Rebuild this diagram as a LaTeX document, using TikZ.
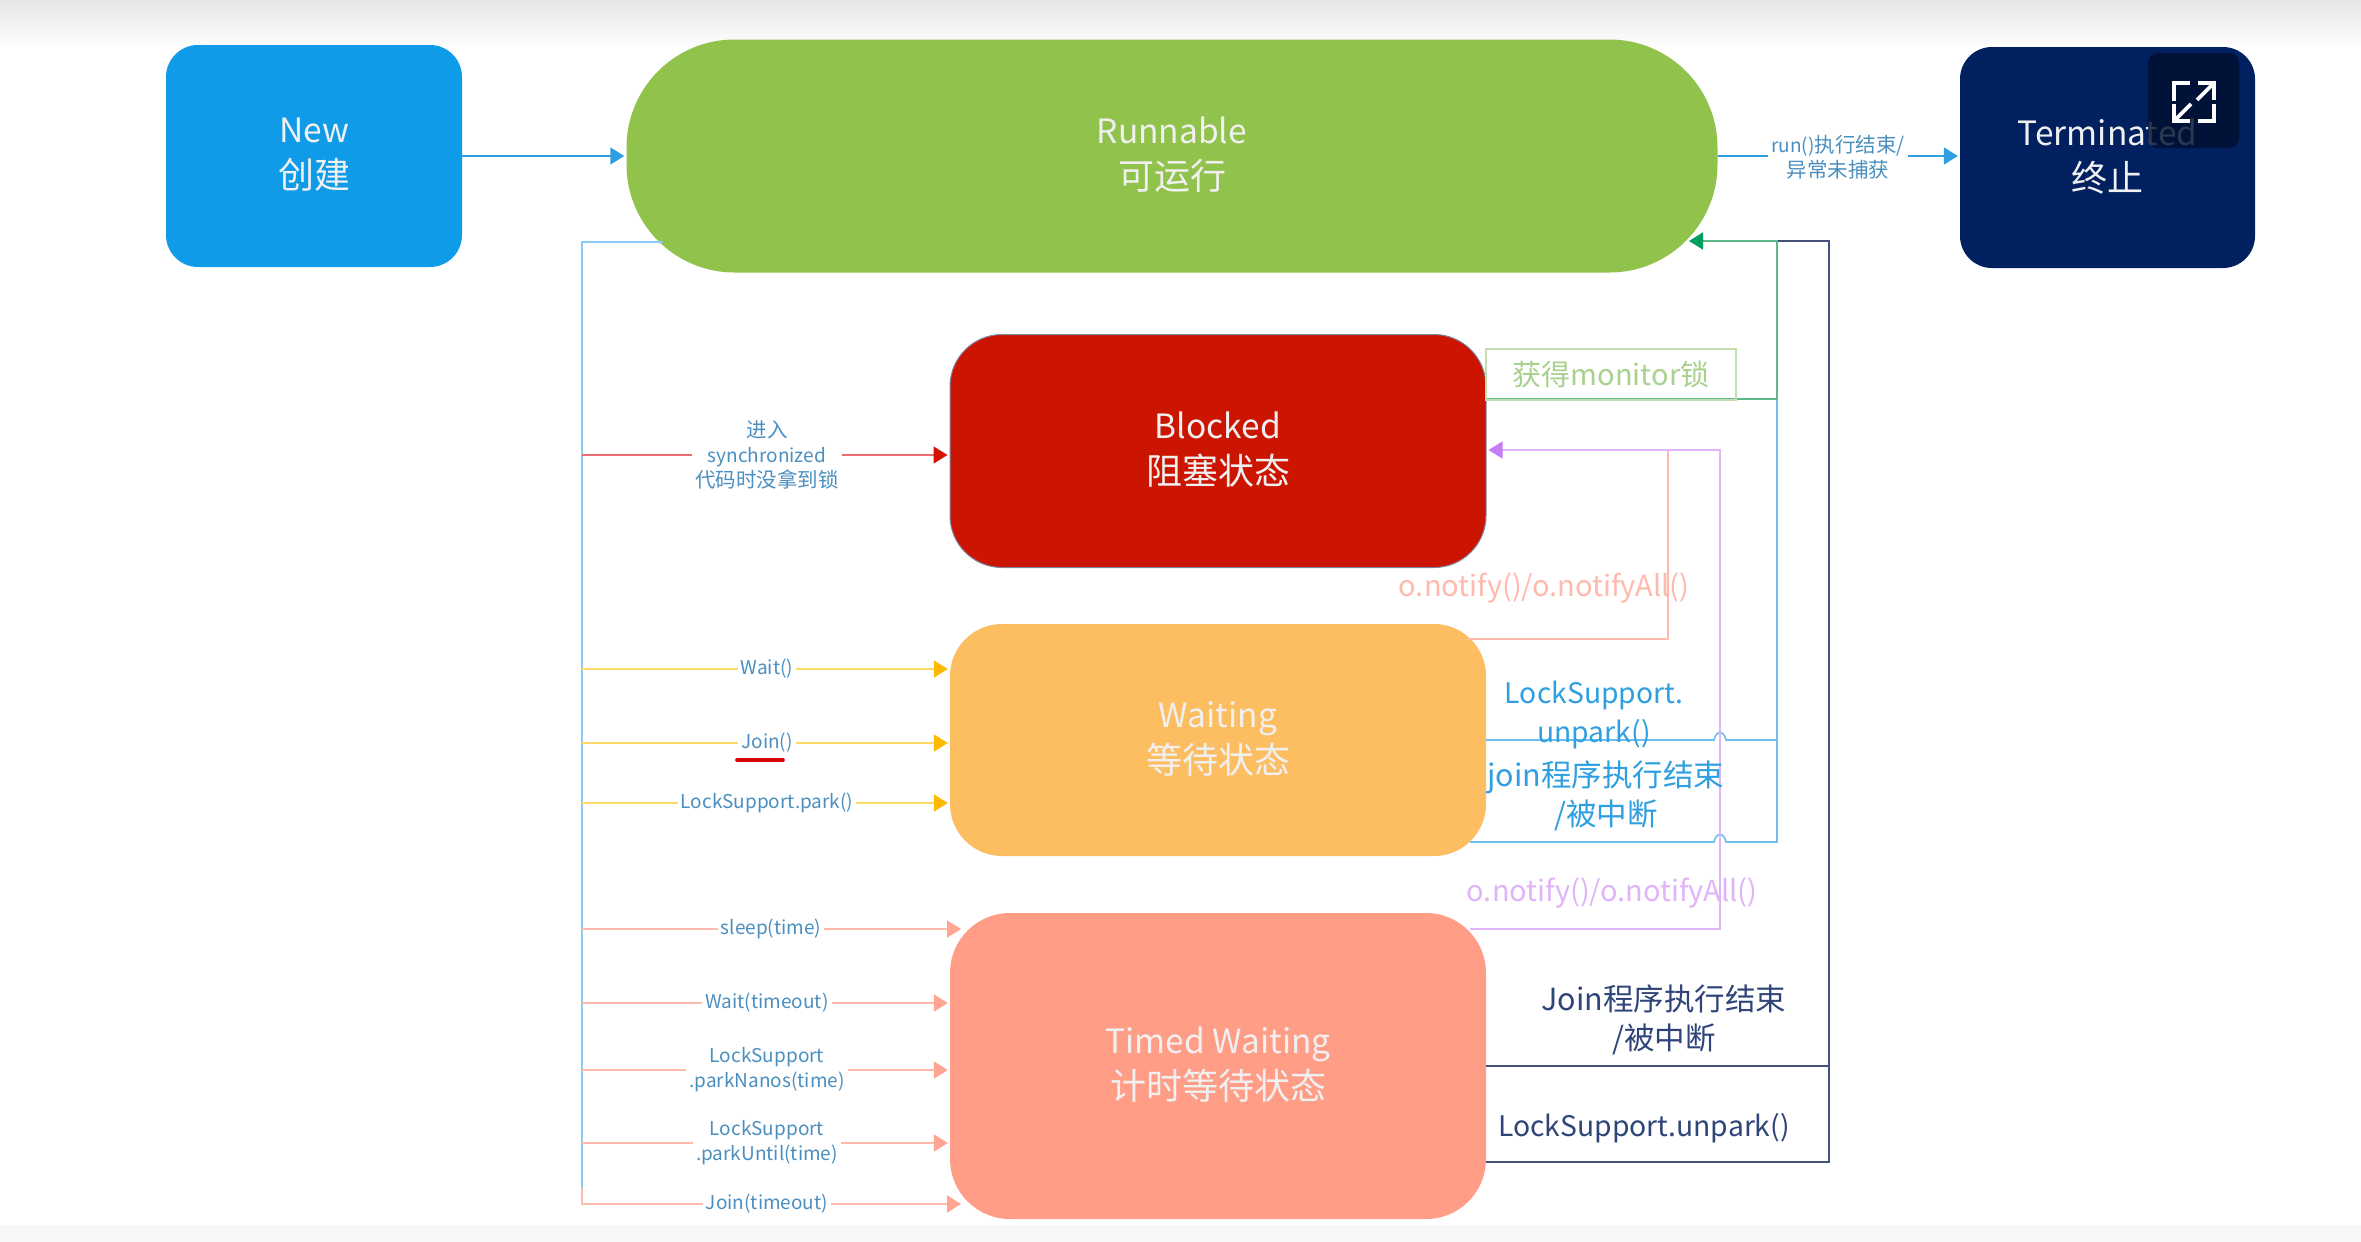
\documentclass[tikz,border=0pt]{standalone}
\usepackage{fontspec}
\setmainfont{Noto Sans CJK SC}
\usetikzlibrary{arrows.meta,calc}
\definecolor{cNew}{HTML}{0F9BE8}
\definecolor{cRun}{HTML}{91C24C}
\definecolor{cTerm}{HTML}{002060}
\definecolor{cBlock}{HTML}{CC1500}
\definecolor{cWait}{HTML}{FDBE62}
\definecolor{cTimed}{HTML}{FF9D87}
\definecolor{cTrunk}{HTML}{8CCBF7}
\definecolor{cBlue}{HTML}{2E9FE0}
\definecolor{cLab}{HTML}{4A8FBF}
\definecolor{cYel}{HTML}{FFD966}
\definecolor{cYelTip}{HTML}{FFB900}
\definecolor{cSal}{HTML}{FFB9AD}
\definecolor{cSalTip}{HTML}{FFA592}
\definecolor{cRedL}{HTML}{EC6A70}
\definecolor{cGreen}{HTML}{5DB88A}
\definecolor{cGreenTip}{HTML}{00A060}
\definecolor{cMon}{HTML}{A9D18E}
\definecolor{cPur}{HTML}{E0B4F8}
\definecolor{cPurTip}{HTML}{C77DF5}
\definecolor{cNavy}{HTML}{44527A}
\definecolor{cNavyT}{HTML}{2F4478}
\newcommand\latn[1]{{\fontsize{33.5}{46}\selectfont #1}}
\newcommand\cjkb[1]{#1\rule[-5pt]{0pt}{1pt}}
\newcommand\cjks[1]{{\fontsize{20.5}{25}\selectfont #1}}
\newcommand\cjkm[1]{{\fontsize{30.5}{39}\selectfont #1}}
\newcommand\latm[1]{{\fontsize{28.3}{39}\selectfont #1}}
\tikzset{
  state/.style={draw=none,inner sep=0pt,align=center,text=white!94!black,
    font=\fontsize{36}{46}\selectfont,rounded corners=#1},
  state/.default=52pt,
  lab/.style={inner sep=3pt,align=center,text=cLab,font=\fontsize{19}{25}\selectfont},
  big/.style={inner sep=0pt,align=center,font=\fontsize{29}{39}\selectfont},
  conn/.style={line width=1.6pt},
  tipped/.style={-{Triangle[length=14pt,width=17pt,color=#1]},shorten >=2pt},
}
\begin{document}
\begin{tikzpicture}[x=1pt,y=-1pt]
\useasboundingbox (0,0) rectangle (2361,1242);
\fill[white] (0,0) rectangle (2361,1242);
\shade[top color=black!10,bottom color=white] (0,0) rectangle (2361,48);
\fill[black!3] (0,1225) rectangle (2361,1242);
% states
\node[state=32pt,fill=cNew,minimum width=296pt,minimum height=222pt] (new) at (314,156) {\latn{New}\\\cjkb{创建}};
\node[state=108pt,fill=cRun,minimum width=1091pt,minimum height=233pt] (run) at (1172,156) {\latn{Runnable}\\\cjkb{可运行}};
\node[state=32pt,fill=cTerm,minimum width=295pt,minimum height=221pt] (term) at (2107.5,157.5) {\latn{Terminated}\\\cjkb{终止}};
\node[state,fill=cBlock,draw=cNavy!70,line width=1pt,minimum width=536pt,minimum height=233pt] (blocked) at (1218,451) {\latn{Blocked}\\\cjkb{阻塞状态}};
\node[state,fill=cWait,minimum width=536pt,minimum height=232pt] (waiting) at (1218,740) {\latn{Waiting}\\\cjkb{等待状态}};
\node[state=60pt,fill=cTimed,minimum width=536pt,minimum height=306pt] (timed) at (1218,1066) {\latn{Timed Waiting}\\\cjkb{计时等待状态}};
% free ends
\coordinate (trunkTop) at (582,242);
\coordinate (trunkEnd) at (582,1204);
\coordinate (runTL) at (663,242);
\coordinate (trunkB) at (582,1188);
\coordinate (tip1) at (963,929);
\coordinate (tip2) at (963,1204);
\coordinate (gTop) at (1777,241);
\coordinate (gMon) at (1777,399);
\coordinate (nTop) at (1829,241);
\coordinate (nLow) at (1829,1162);
\coordinate (runBR) at (1687,241);
% trunk
\draw[cTrunk,line width=2.4pt] (runTL) -- (trunkTop) -- (trunkB);
% labels on connectors
\node[lab] (lsync) at (767,455) {\cjks{进入}\\synchronized\\\cjks{代码时没拿到锁}};
\node[lab] (lwait) at (767,669) {Wait()};
\node[lab] (ljoin) at (767,743) {Join()};
\node[lab] (lpark) at (767,803) {LockSupport.park()};
\node[lab] (lsleep) at (771,929) {sleep(time)};
\node[lab] (lwt) at (767,1003) {Wait(timeout)};
\node[lab] (lnanos) at (767,1070) {LockSupport\\.parkNanos(time)};
\node[lab] (luntil) at (767,1143) {LockSupport\\.parkUntil(time)};
\node[lab] (ljt) at (767,1204) {Join(timeout)};
\node[lab] (lrun) at (1838,157) {run()\cjks{执行结束/}\\\cjks{异常未捕获}};
% red
\draw[conn,cRedL] (trunkTop |- lsync.west) -- (lsync.west);
\draw[conn,cRedL,tipped=cBlock!85!red] (lsync.east) -- (lsync.east -| blocked.west);
% yellow
\foreach \n in {lwait,ljoin,lpark}{
  \draw[conn,cYel] (trunkTop |- \n.west) -- (\n.west);
  \draw[conn,cYel,tipped=cYelTip] (\n.east) -- (\n.east -| waiting.west);
}
% underline of Join()
\coordinate (ulA) at (737,760);
\coordinate (ulB) at (783,760);
\draw[red!85!black,line width=3.6pt,line cap=round] (ulA) -- (ulB);
% salmon
\foreach \n in {lwt,lnanos,luntil}{
  \draw[conn,cSal] (trunkTop |- \n.west) -- (\n.west);
  \draw[conn,cSal,tipped=cSalTip] (\n.east) -- (\n.east -| timed.west);
}
\draw[conn,cSal] (trunkTop |- lsleep.west) -- (lsleep.west);
\draw[conn,cSal,tipped=cSalTip] (lsleep.east) -- (lsleep.east -| tip1);
\draw[conn,cSal] (trunkB) -- (trunkTop |- ljt.west) -- (ljt.west);
\draw[conn,cSal,tipped=cSalTip] (ljt.east) -- (ljt.east -| tip2);
% New -> Runnable
\draw[conn,cBlue,tipped=cBlue] (new) -- (new -| run.west);
% Runnable -> Terminated
\draw[conn,cBlue] (run.east) -- (lrun.west |- run.east);
\draw[conn,cBlue,tipped=cBlue] (lrun.east |- run.east) -- (term.west |- run.east);
% Timed Waiting -> Runnable (navy)
\coordinate (n1) at (timed.east |- 0,1066);
\coordinate (n2) at (timed.east |- nLow);
\draw[conn,cNavy] (n2) -- (nLow) -- (nTop) -- (gTop);
\draw[conn,cNavy] (n1) -- (n1 -| nTop);
% Waiting -> Runnable (blue), with line jumps over the violet line
\coordinate (w1) at (waiting.east);
\coordinate (w2) at (1470,842);
\draw[conn,cTrunk!70!cBlue] (w1) -- (1714,740) .. controls (1716,730) and (1724,730) .. (1726,740) -- (w1 -| gMon);
\draw[conn,cTrunk!70!cBlue] (w2) -- (1714,842) .. controls (1716,832) and (1724,832) .. (1726,842) -- (w2 -| gMon) -- (gMon);
% Blocked -> Runnable (green)
\coordinate (b1) at (blocked.east |- gMon);
\draw[conn,cGreen] (b1) -- (gMon);
\draw[conn,cGreen,tipped=cGreenTip] (gMon) -- (gTop) -- (runBR);
% monitor label box
\node[big,draw=cMon!70,line width=1.4pt,text=cMon,minimum width=250pt,minimum height=51pt] (lmon) at (1611,374.5) {获得monitor锁};
% Waiting -> Blocked (salmon)
\coordinate (s1) at (1467,639);
\coordinate (s2) at (1668,639);
\coordinate (s3) at (1668,450);
\draw[conn,cSal] (s1) -- (s2) -- (s3);
% Timed Waiting -> Blocked (violet)
\coordinate (p1) at (1470,929);
\coordinate (p2) at (1720,929);
\coordinate (p3) at (1720,450);
\draw[conn,cPur,tipped=cPurTip] (p1) -- (p2) -- (p3) -- (blocked.east |- p3);
% large labels
\node[big,text=cSal] (tn1) at (1544,588.5) {o.notify()/o.notifyAll()};
\node[big,text=cBlue] (tu1) at (1594,715) {\latm{LockSupport.}\\\latm{unpark()}};
\node[big,text=cBlue] (tj1) at (1606,796) {\cjkm{join程序执行结束}\\\cjkm{/被中断}};
\node[big,text=cPur] (tn2) at (1612,893.5) {o.notify()/o.notifyAll()};
\node[big,text=cNavyT] (tj2) at (1664,1020) {\cjkm{Join程序执行结束}\\\cjkm{/被中断}};
\node[big,text=cNavyT] (tu2) at (1644,1128) {\latm{LockSupport.unpark()}};
% player expand button
\fill[rounded corners=10pt,fill=black!20!cTerm!60!black,fill opacity=.82] (2148,53) rectangle (2239,148);
\draw[white,line width=3.6pt] (2174,101) -- (2174,83) -- (2190,83);
\draw[white,line width=3.6pt] (2198,83) -- (2214,83) -- (2214,100);
\draw[white,line width=3.6pt] (2214,83) -- (2197,100);
\draw[white,line width=3.6pt] (2174,104) -- (2174,121) -- (2190,121);
\draw[white,line width=3.6pt] (2174,121) -- (2191,104);
\draw[white,line width=3.6pt] (2198,121) -- (2214,121) -- (2214,104);
\end{tikzpicture}
\end{document}
